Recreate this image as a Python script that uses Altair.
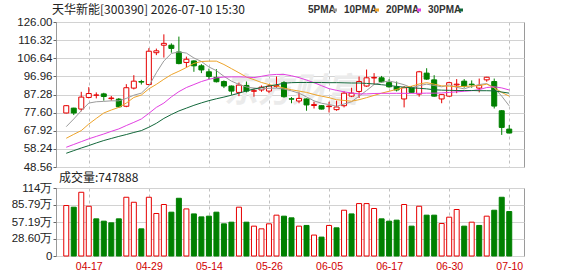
import altair as alt
import pandas as pd

title_text = "天华新能[300390] 2026-07-10 15:30"
vol_label = "成交量:747888"
watermark_text = "东方财富"

dates = ["04-14", "04-15", "04-16", "04-17", "04-20", "04-21", "04-22", "04-23", "04-24", "04-27",
         "04-28", "04-29", "04-30", "05-06", "05-07", "05-08", "05-11", "05-12", "05-13", "05-14",
         "05-15", "05-18", "05-19", "05-20", "05-21", "05-22", "05-25", "05-26", "05-27", "05-28",
         "05-29", "06-01", "06-02", "06-03", "06-04", "06-05", "06-08", "06-09", "06-10", "06-11",
         "06-12", "06-15", "06-16", "06-17", "06-18", "06-22", "06-23", "06-24", "06-25", "06-26",
         "06-29", "06-30", "07-01", "07-02", "07-03", "07-06", "07-07", "07-08", "07-09", "07-10"]

opens = [77.4, 80.0, 79.5, 85.7, 86.9, 87.6, 85.1, 84.8, 81.0, 90.7,
         94.2, 92.6, 109.6, 113.6, 113.6, 110.0, 104.4, 105.2, 102.6, 99.4,
         96.4, 94.2, 91.8, 88.4, 92.1, 89.0, 89.7, 89.1, 91.6, 93.6,
         85.0, 83.8, 84.9, 81.4, 81.3, 80.8, 79.2, 81.3, 86.4, 88.9,
         91.8, 96.1, 96.2, 93.6, 91.4, 84.9, 90.9, 87.5, 98.7, 95.1,
         84.9, 86.4, 92.4, 94.4, 92.8, 90.7, 95.1, 94.2, 78.6, 68.8]
highs = [81.6, 80.2, 88.7, 91.2, 88.4, 88.2, 86.5, 85.4, 92.8, 97.6,
         95.1, 112.0, 111.8, 119.4, 114.6, 118.2, 107.5, 105.5, 103.5, 101.1,
         100.8, 94.8, 92.1, 93.6, 94.2, 90.4, 92.1, 92.6, 96.9, 94.4,
         85.9, 88.4, 85.2, 83.4, 81.5, 83.4, 84.0, 89.1, 90.9, 96.9,
         100.6, 98.7, 97.2, 95.5, 94.2, 91.8, 91.8, 99.9, 101.3, 97.6,
         87.5, 94.1, 95.5, 95.5, 94.8, 95.8, 96.7, 95.8, 79.0, 71.0]
lows = [77.2, 76.3, 78.3, 85.2, 85.2, 84.0, 84.0, 80.3, 80.5, 90.0,
        92.6, 92.3, 108.3, 107.0, 109.6, 103.4, 101.7, 99.4, 98.7, 95.5,
        93.7, 90.7, 87.1, 86.4, 88.4, 86.1, 88.7, 88.0, 90.9, 85.6,
        82.6, 82.6, 78.6, 79.8, 79.3, 77.7, 78.6, 80.4, 85.9, 85.4,
        91.4, 92.6, 93.6, 90.9, 88.9, 80.4, 88.0, 86.1, 95.1, 86.1,
        82.6, 86.1, 88.0, 90.9, 90.9, 88.4, 94.1, 79.8, 65.7, 66.6]
closes = [81.3, 77.4, 85.9, 87.8, 87.0, 86.2, 85.4, 80.7, 90.9, 94.4,
          93.9, 110.4, 110.6, 114.6, 111.9, 103.8, 106.1, 102.6, 100.4, 96.9,
          94.1, 91.8, 89.1, 92.3, 89.1, 89.3, 91.2, 91.8, 92.0, 86.1,
          84.8, 85.2, 81.7, 81.9, 79.5, 81.1, 80.6, 88.0, 88.0, 94.2,
          96.2, 96.4, 94.1, 91.4, 89.7, 90.9, 88.4, 99.4, 95.5, 86.4,
          87.2, 93.6, 92.8, 91.8, 92.5, 92.1, 96.5, 81.1, 69.7, 66.7]

# volume in 万 (10k shares)
volumes = [84.9, 82.1, 107.2, 83.7, 62.5, 58.6, 55.8, 62.5, 98.8, 90.4,
           45.7, 98.8, 71.5, 86.6, 73.7, 97.1, 79.2, 70.8, 65.8, 67.0,
           73.7, 54.1, 56.9, 82.1, 56.9, 50.2, 45.7, 54.1, 68.7, 67.0,
           64.2, 50.2, 51.4, 35.2, 31.8, 51.4, 47.4, 77.0, 70.8, 88.2,
           88.2, 79.9, 62.5, 58.6, 60.3, 86.6, 50.2, 83.7, 68.7, 68.7,
           54.7, 65.3, 78.2, 50.2, 56.9, 51.4, 67.0, 77.0, 98.8, 74.79]
vol_up = [1, 0, 1, 1, 0, 0, 0, 0, 1, 1,
          0, 1, 1, 1, 0, 0, 1, 0, 0, 0,
          0, 0, 0, 1, 0, 1, 1, 1, 1, 0,
          0, 1, 0, 1, 0, 1, 0, 1, 0, 1,
          1, 1, 0, 0, 0, 1, 0, 1, 0, 0,
          1, 1, 1, 0, 1, 0, 1, 0, 0, 0]

ma5 = [70.1, 74.2, 78.6, 82.7, 83.4, 83.6, 83.9, 83.9, 85.2, 86.9,
       88.0, 91.8, 98.9, 105.2, 109.2, 110.0, 109.4, 106.8, 104.9, 102.0,
       100.0, 97.0, 94.4, 92.7, 91.3, 90.7, 90.2, 90.6, 90.7, 90.2,
       89.2, 88.0, 86.0, 83.9, 82.6, 81.9, 81.0, 82.2, 83.4, 86.4,
       89.4, 92.6, 93.8, 94.5, 93.6, 92.5, 90.9, 92.0, 92.8, 92.1,
       91.4, 92.4, 91.1, 90.3, 91.6, 92.6, 93.1, 90.8, 86.4, 81.2]
ma10 = [63.9, 66.0, 68.0, 71.5, 74.5, 77.4, 79.0, 80.4, 82.7, 85.7,
        87.0, 90.3, 92.7, 95.4, 97.9, 99.7, 101.7, 103.9, 104.9, 105.1,
        105.1, 103.3, 101.1, 98.9, 96.6, 95.2, 93.7, 92.6, 91.8, 90.7,
        89.8, 89.1, 88.4, 87.3, 86.4, 85.6, 84.5, 84.1, 83.7, 84.5,
        85.6, 86.8, 88.0, 89.0, 90.0, 91.0, 91.7, 92.9, 93.6, 92.8,
        91.9, 91.7, 91.5, 91.6, 91.8, 92.0, 92.8, 90.9, 88.4, 86.4]
ma20 = [59.1, 60.6, 62.1, 63.6, 64.9, 66.2, 67.6, 68.9, 70.7, 72.4,
        74.2, 77.2, 80.4, 82.7, 86.0, 88.8, 91.0, 92.6, 94.2, 95.4,
        96.2, 96.6, 96.7, 96.7, 96.6, 96.3, 97.0, 97.7, 98.0, 98.0,
        97.3, 96.3, 95.0, 93.6, 92.0, 90.4, 89.5, 88.7, 88.1, 87.6,
        87.6, 87.8, 87.9, 87.9, 87.9, 87.9, 87.9, 87.9, 88.0, 88.0,
        88.1, 88.4, 88.7, 89.0, 89.3, 89.9, 91.0, 91.4, 90.8, 89.7]
ma30 = [55.9, 57.3, 58.7, 60.0, 61.4, 62.7, 63.8, 64.9, 65.9, 67.0,
        68.0, 69.8, 71.9, 74.5, 76.6, 78.5, 80.0, 81.5, 82.8, 84.0,
        85.0, 85.9, 86.9, 88.0, 89.2, 90.2, 91.0, 91.8, 92.5, 93.3,
        93.6, 93.7, 93.7, 93.7, 93.7, 93.6, 93.6, 93.5, 93.4, 93.4,
        93.2, 92.9, 92.5, 92.1, 91.6, 91.2, 90.9, 90.6, 90.3, 89.8,
        89.6, 89.5, 89.4, 89.4, 89.4, 89.3, 89.3, 89.2, 88.6, 88.0]

ma_names = ["5PMA", "10PMA", "20PMA", "30PMA"]
ma_colors = ["#9b9b9b", "#eea42a", "#e23fe2", "#13683b"]

price_ticks = [48.56, 58.24, 67.92, 77.60, 87.28, 96.96, 106.64, 116.32, 126.00]
vol_ticks = [0, 28.60, 57.19, 85.79, 114.38]
vol_tick_labels = ["0", "28.60万", "57.19万", "85.79万", "114万"]
label_dates = ["04-17", "04-29", "05-14", "05-26", "06-05", "06-17", "06-30", "07-10"]

RED = "#e60000"
GREEN = "#008000"
GRID = "#d2d2d2"
VGRID = "#c0c0c0"
AXIS_FONT = "Liberation Sans"
CJK_FONT = "Noto Sans CJK SC"

W = 468
H1 = 145
H2 = 68

idx = list(range(len(dates)))
label_idx = [dates.index(d) for d in label_dates]

df = pd.DataFrame({"i": idx, "date": dates, "open": opens, "high": highs,
                   "low": lows, "close": closes})
df["kind"] = ["up" if c >= o else "down" for o, c in zip(opens, closes)]
df["blo"] = [min(o, c) for o, c in zip(opens, closes)]
df["bhi"] = [max(o, c) for o, c in zip(opens, closes)]

vdf = pd.DataFrame({"i": idx, "vol": volumes,
                    "kind": ["up" if u else "down" for u in vol_up]})

ma_df = pd.concat([pd.DataFrame({"i": idx, "v": vals, "s": name})
                   for name, vals in zip(ma_names, [ma5, ma10, ma20, ma30])])

xs = alt.Scale(domain=[-0.7, 60.3], nice=False, zero=False)
ys = alt.Scale(domain=[48.56, 126.0], nice=False, zero=False)
vs = alt.Scale(domain=[0, 114.38], nice=False, zero=True)
kind_stroke = alt.Scale(domain=["up", "down"], range=[RED, GREEN])
kind_fill = alt.Scale(domain=["up", "down"], range=["#ffffff", GREEN])

xlabel_expr = "''"
for i, d in reversed(list(zip(label_idx, label_dates))):
    xlabel_expr = f"datum.value == {i} ? '{d}' : ({xlabel_expr})"
vlabel_expr = "''"
for v, t in reversed(list(zip(vol_ticks, vol_tick_labels))):
    vlabel_expr = f"abs(datum.value - {v}) < 0.01 ? '{t}' : ({vlabel_expr})"
plabel_expr = "format(datum.value, '.2f')"

x_axis_top = alt.Axis(values=label_idx, labels=False, ticks=False, domain=False,
                      grid=True, gridDash=[3, 3], gridColor=VGRID, title=None)
x_axis_bot = alt.Axis(values=label_idx, labelExpr=xlabel_expr, ticks=False, domain=False,
                      grid=True, gridDash=[3, 3], gridColor=VGRID, title=None,
                      labelColor="#d00000", labelFont=AXIS_FONT, labelFontSize=10.5,
                      labelPadding=5, labelFlush=False, labelOverlap=False)
price_axis = alt.Axis(values=price_ticks, labelExpr=plabel_expr, title=None, grid=True,
                      gridColor=GRID, domain=False, tickSize=3, tickColor="#666",
                      labelFont=AXIS_FONT, labelFontSize=11.5, labelColor="#222",
                      labelPadding=1, labelFlush=False, labelOverlap=False,
                      labelBound=False)
vol_axis = alt.Axis(values=vol_ticks, labelExpr=vlabel_expr, title=None, grid=True,
                    gridColor=GRID, domain=False, tickSize=3, tickColor="#666",
                    labelFont=AXIS_FONT, labelFontSize=11.5, labelColor="#222",
                    labelPadding=1, labelFlush=False, labelOverlap=False)

one = pd.DataFrame({"a": [0]})

# invisible anchor fixing the top-left origin of the page
anchor = alt.Chart(one).mark_rect(opacity=0, strokeWidth=0).encode(
    x=alt.value(-55), x2=alt.value(-54), y=alt.value(-21), y2=alt.value(-20))

watermark = alt.Chart(pd.DataFrame({"t": [watermark_text]})).mark_text(
    align="left", baseline="middle", font=CJK_FONT, fontSize=34, fontWeight="bold",
    fontStyle="italic", color="#ebebeb").encode(
    text="t:N", x=alt.value(168), y=alt.value(70))

wick = alt.Chart(df).mark_rule(strokeWidth=1).encode(
    x=alt.X("i:Q", scale=xs, axis=x_axis_top),
    y=alt.Y("low:Q", scale=ys, axis=price_axis),
    y2="high:Q",
    stroke=alt.Stroke("kind:N", scale=kind_stroke, legend=None))

body = alt.Chart(df).mark_bar(size=5, strokeWidth=1).encode(
    x=alt.X("i:Q", scale=xs, axis=None),
    y=alt.Y("blo:Q", scale=ys, axis=None),
    y2="bhi:Q",
    fill=alt.Fill("kind:N", scale=kind_fill, legend=None),
    stroke=alt.Stroke("kind:N", scale=kind_stroke, legend=None))

ma = alt.Chart(ma_df).mark_line(strokeWidth=1).encode(
    x=alt.X("i:Q", scale=xs, axis=None),
    y=alt.Y("v:Q", scale=ys, axis=None),
    color=alt.Color("s:N", scale=alt.Scale(domain=ma_names, range=ma_colors), legend=None),
    order="i:Q")

title_layer = alt.Chart(pd.DataFrame({"t": [title_text]})).mark_text(
    align="left", baseline="middle", font=CJK_FONT, fontSize=12, color="#222").encode(
    text="t:N", x=alt.value(-4), y=alt.value(-12))

legend_layers = []
lx = 252
for name, col in zip(ma_names, ma_colors):
    legend_layers.append(alt.Chart(pd.DataFrame({"t": [name]})).mark_text(
        align="left", baseline="middle", font=AXIS_FONT, fontSize=10, color="#333",
        fontWeight="bold").encode(text="t:N", x=alt.value(lx), y=alt.value(-12)))
    tw = 23 if len(name) == 4 else 29
    legend_layers.append(alt.Chart(one).mark_rect(color=col).encode(
        x=alt.value(lx + tw + 2), x2=alt.value(lx + tw + 6),
        y=alt.value(-13.5), y2=alt.value(-10.5)))
    lx += tw + 13

top = alt.layer(anchor, watermark, wick, body, ma, title_layer, *legend_layers).resolve_axis(
    x="independent", y="independent").properties(width=W, height=H1)

vbars = alt.Chart(vdf).mark_bar(size=5, strokeWidth=1).encode(
    x=alt.X("i:Q", scale=xs, axis=x_axis_bot),
    y=alt.Y("vol:Q", scale=vs, axis=vol_axis),
    fill=alt.Fill("kind:N", scale=kind_fill, legend=None),
    stroke=alt.Stroke("kind:N", scale=kind_stroke, legend=None))

vtext = alt.Chart(pd.DataFrame({"t": [vol_label]})).mark_text(
    align="left", baseline="middle", font=CJK_FONT, fontSize=12, color="#222").encode(
    text="t:N", x=alt.value(3), y=alt.value(-10))

bottom = alt.layer(vbars, vtext).properties(width=W, height=H2)

chart = alt.vconcat(top, bottom, spacing=21, bounds="flush").properties(
    padding=0, background="white").configure_view(
    stroke="#9a9a9a", strokeWidth=1)

chart.save("out.html", embed_options={"renderer": "svg", "actions": False})
